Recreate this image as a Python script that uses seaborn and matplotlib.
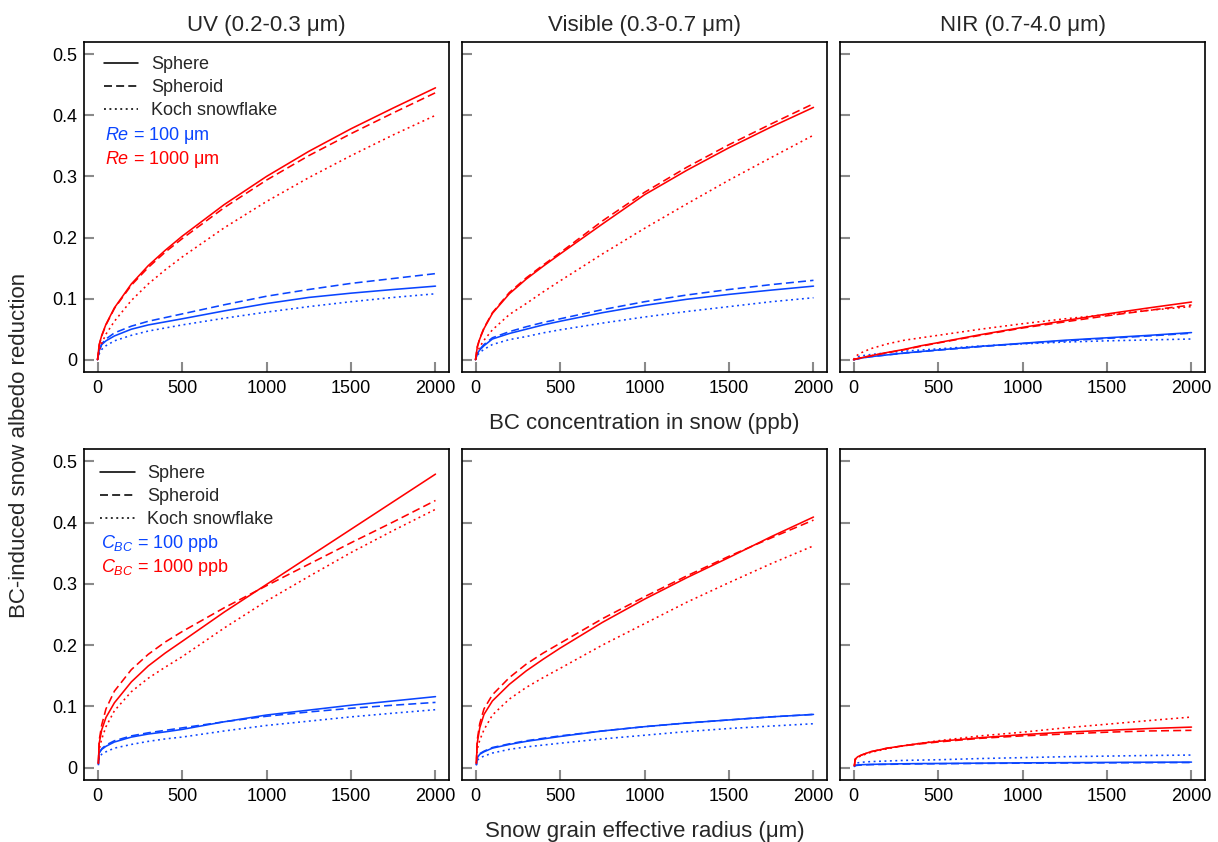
import matplotlib
matplotlib.use("Agg")
import numpy as np
import pandas as pd
import matplotlib.pyplot as plt
from matplotlib.lines import Line2D
from matplotlib.ticker import FixedLocator, FuncFormatter
import seaborn as sns

# ---------------------------------------------------------------------------
# Data: BC-induced snow albedo reduction
# Top row: as a function of BC concentration (ppb) for two grain radii
# Bottom row: as a function of snow grain effective radius (um) for two BC levels
# ---------------------------------------------------------------------------
bc_conc = [0, 10, 25, 50, 100, 200, 300, 400, 500, 750, 1000, 1250, 1500, 1750, 2000]
grain_radius = [5, 10, 25, 50, 100, 200, 300, 400, 500, 750, 1000, 1250, 1500, 1750, 2000]

shapes = ["Sphere", "Spheroid", "Koch snowflake"]
bands = ["UV (0.2-0.3 μm)", "Visible (0.3-0.7 μm)", "NIR (0.7-4.0 μm)"]

# --- UV, vs BC concentration ---
uv_conc_sphere_re1000 = [0, 0.025, 0.040, 0.058, 0.085, 0.124, 0.154, 0.179, 0.202, 0.254, 0.300, 0.341, 0.378, 0.412, 0.445]
uv_conc_spheroid_re1000 = [0, 0.024, 0.039, 0.057, 0.084, 0.122, 0.151, 0.176, 0.198, 0.249, 0.294, 0.334, 0.370, 0.404, 0.437]
uv_conc_koch_re1000 = [0, 0.015, 0.027, 0.042, 0.063, 0.097, 0.124, 0.147, 0.168, 0.216, 0.259, 0.298, 0.334, 0.368, 0.400]
uv_conc_sphere_re100 = [0, 0.015, 0.025, 0.031, 0.039, 0.050, 0.057, 0.062, 0.067, 0.080, 0.092, 0.102, 0.109, 0.115, 0.1205]
uv_conc_spheroid_re100 = [0, 0.015, 0.026, 0.034, 0.044, 0.055, 0.063, 0.069, 0.075, 0.090, 0.104, 0.115, 0.125, 0.133, 0.141]
uv_conc_koch_re100 = [0, 0.010, 0.017, 0.023, 0.031, 0.040, 0.047, 0.052, 0.057, 0.068, 0.078, 0.087, 0.095, 0.102, 0.108]

# --- Visible, vs BC concentration ---
vis_conc_sphere_re1000 = [0, 0.020, 0.034, 0.051, 0.076, 0.108, 0.132, 0.153, 0.173, 0.222, 0.270, 0.310, 0.347, 0.381, 0.413]
vis_conc_spheroid_re1000 = [0, 0.021, 0.035, 0.052, 0.077, 0.110, 0.134, 0.155, 0.175, 0.227, 0.274, 0.315, 0.352, 0.386, 0.419]
vis_conc_koch_re1000 = [0, 0.012, 0.021, 0.032, 0.049, 0.074, 0.092, 0.111, 0.129, 0.173, 0.215, 0.255, 0.294, 0.331, 0.3675]
vis_conc_sphere_re100 = [0, 0.010, 0.016, 0.023, 0.034, 0.043, 0.050, 0.057, 0.063, 0.077, 0.089, 0.099, 0.107, 0.114, 0.1205]
vis_conc_spheroid_re100 = [0, 0.010, 0.017, 0.025, 0.036, 0.046, 0.054, 0.061, 0.067, 0.082, 0.095, 0.106, 0.115, 0.123, 0.130]
vis_conc_koch_re100 = [0, 0.007, 0.012, 0.017, 0.025, 0.033, 0.038, 0.044, 0.049, 0.060, 0.070, 0.079, 0.087, 0.095, 0.1015]

# --- NIR, vs BC concentration ---
nir_conc_sphere_re1000 = [0, 0.001, 0.002, 0.0035, 0.0065, 0.012, 0.017, 0.023, 0.028, 0.041, 0.053, 0.064, 0.075, 0.085, 0.0945]
nir_conc_spheroid_re1000 = [0, 0.001, 0.002, 0.0035, 0.0063, 0.0115, 0.0165, 0.0222, 0.0275, 0.040, 0.052, 0.062, 0.072, 0.081, 0.0896]
nir_conc_koch_re1000 = [0, 0.005, 0.008, 0.012, 0.018, 0.026, 0.032, 0.036, 0.040, 0.050, 0.059, 0.067, 0.074, 0.081, 0.087]
nir_conc_sphere_re100 = [0, 0.0007, 0.0015, 0.003, 0.005, 0.008, 0.011, 0.0135, 0.016, 0.022, 0.027, 0.032, 0.036, 0.040, 0.0445]
nir_conc_spheroid_re100 = [0, 0.0007, 0.0015, 0.003, 0.005, 0.008, 0.0108, 0.0133, 0.0157, 0.0215, 0.0265, 0.031, 0.035, 0.039, 0.0435]
nir_conc_koch_re100 = [0, 0.003, 0.005, 0.0065, 0.0085, 0.0115, 0.014, 0.016, 0.0178, 0.0225, 0.026, 0.029, 0.031, 0.0325, 0.034]

# --- UV, vs grain radius ---
uv_rad_sphere_c1000 = [0.008, 0.040, 0.062, 0.082, 0.106, 0.140, 0.166, 0.187, 0.206, 0.254, 0.299, 0.344, 0.389, 0.434, 0.479]
uv_rad_spheroid_c1000 = [0.008, 0.045, 0.070, 0.096, 0.125, 0.160, 0.185, 0.205, 0.222, 0.261, 0.297, 0.332, 0.367, 0.401, 0.436]
uv_rad_koch_c1000 = [0.006, 0.030, 0.047, 0.067, 0.093, 0.124, 0.146, 0.164, 0.181, 0.228, 0.272, 0.312, 0.351, 0.387, 0.4216]
uv_rad_sphere_c100 = [0.006, 0.024, 0.030, 0.035, 0.042, 0.050, 0.055, 0.0585, 0.0625, 0.075, 0.086, 0.094, 0.102, 0.109, 0.116]
uv_rad_spheroid_c100 = [0.006, 0.025, 0.031, 0.037, 0.044, 0.052, 0.057, 0.061, 0.065, 0.075, 0.084, 0.091, 0.097, 0.102, 0.1066]
uv_rad_koch_c100 = [0.004, 0.018, 0.022, 0.026, 0.032, 0.038, 0.043, 0.047, 0.050, 0.060, 0.069, 0.076, 0.083, 0.089, 0.0947]

# --- Visible, vs grain radius ---
vis_rad_sphere_c1000 = [0.008, 0.040, 0.065, 0.087, 0.109, 0.136, 0.158, 0.177, 0.195, 0.237, 0.275, 0.310, 0.343, 0.377, 0.409]
vis_rad_spheroid_c1000 = [0.008, 0.045, 0.072, 0.096, 0.119, 0.147, 0.169, 0.187, 0.203, 0.243, 0.279, 0.313, 0.345, 0.375, 0.404]
vis_rad_koch_c1000 = [0.006, 0.030, 0.045, 0.062, 0.086, 0.112, 0.131, 0.147, 0.162, 0.200, 0.235, 0.270, 0.302, 0.333, 0.362]
vis_rad_sphere_c100 = [0.005, 0.016, 0.022, 0.026, 0.032, 0.038, 0.043, 0.047, 0.051, 0.060, 0.067, 0.073, 0.078, 0.083, 0.087]
vis_rad_spheroid_c100 = [0.005, 0.017, 0.023, 0.027, 0.033, 0.039, 0.044, 0.048, 0.052, 0.060, 0.067, 0.073, 0.078, 0.083, 0.087]
vis_rad_koch_c100 = [0.004, 0.012, 0.016, 0.019, 0.024, 0.030, 0.034, 0.037, 0.040, 0.047, 0.053, 0.059, 0.064, 0.068, 0.0718]

# --- NIR, vs grain radius ---
nir_rad_sphere_c1000 = [0.003, 0.014, 0.018, 0.021, 0.026, 0.032, 0.036, 0.040, 0.043, 0.049, 0.054, 0.058, 0.061, 0.064, 0.0663]
nir_rad_spheroid_c1000 = [0.003, 0.014, 0.018, 0.021, 0.026, 0.032, 0.036, 0.039, 0.042, 0.048, 0.052, 0.055, 0.058, 0.060, 0.061]
nir_rad_koch_c1000 = [0.003, 0.013, 0.017, 0.020, 0.025, 0.031, 0.036, 0.040, 0.044, 0.052, 0.058, 0.065, 0.071, 0.077, 0.0827]
nir_rad_sphere_c100 = [0.002, 0.004, 0.0045, 0.005, 0.0055, 0.006, 0.0065, 0.0068, 0.007, 0.0075, 0.008, 0.0083, 0.0087, 0.009, 0.0092]
nir_rad_spheroid_c100 = [0.002, 0.0035, 0.004, 0.0045, 0.005, 0.0055, 0.006, 0.0063, 0.0065, 0.007, 0.0075, 0.0078, 0.008, 0.0083, 0.0085]
nir_rad_koch_c100 = [0.002, 0.007, 0.008, 0.009, 0.010, 0.011, 0.012, 0.0125, 0.013, 0.015, 0.0165, 0.018, 0.019, 0.020, 0.0207]

# ---------------------------------------------------------------------------
BLUE = "#0A45FF"
RED = "#FF0000"

sns.set_theme(style="white")
plt.rcParams["font.family"] = ["Liberation Sans", "DejaVu Sans"]
plt.rcParams["mathtext.fontset"] = "custom"
plt.rcParams["mathtext.rm"] = "Liberation Sans"
plt.rcParams["mathtext.it"] = "Liberation Sans:italic"

panel_rows = [
    {
        "x": bc_conc,
        "series": [
            [(uv_conc_sphere_re100, uv_conc_spheroid_re100, uv_conc_koch_re100),
             (uv_conc_sphere_re1000, uv_conc_spheroid_re1000, uv_conc_koch_re1000)],
            [(vis_conc_sphere_re100, vis_conc_spheroid_re100, vis_conc_koch_re100),
             (vis_conc_sphere_re1000, vis_conc_spheroid_re1000, vis_conc_koch_re1000)],
            [(nir_conc_sphere_re100, nir_conc_spheroid_re100, nir_conc_koch_re100),
             (nir_conc_sphere_re1000, nir_conc_spheroid_re1000, nir_conc_koch_re1000)],
        ],
        "groups": ["low", "high"],
        "group_labels": [r"$\mathit{Re}$ = 100 μm", r"$\mathit{Re}$ = 1000 μm"],
        "xlabel": "BC concentration in snow (ppb)",
    },
    {
        "x": grain_radius,
        "series": [
            [(uv_rad_sphere_c100, uv_rad_spheroid_c100, uv_rad_koch_c100),
             (uv_rad_sphere_c1000, uv_rad_spheroid_c1000, uv_rad_koch_c1000)],
            [(vis_rad_sphere_c100, vis_rad_spheroid_c100, vis_rad_koch_c100),
             (vis_rad_sphere_c1000, vis_rad_spheroid_c1000, vis_rad_koch_c1000)],
            [(nir_rad_sphere_c100, nir_rad_spheroid_c100, nir_rad_koch_c100),
             (nir_rad_sphere_c1000, nir_rad_spheroid_c1000, nir_rad_koch_c1000)],
        ],
        "groups": ["low", "high"],
        "group_labels": [r"$\mathit{C}_{\mathit{BC}}$ = 100 ppb", r"$\mathit{C}_{\mathit{BC}}$ = 1000 ppb"],
        "xlabel": "Snow grain effective radius (μm)",
    },
]

palette = {"low": BLUE, "high": RED}
dash_styles = {"Sphere": "", "Spheroid": (5.0, 2.6), "Koch snowflake": (1.2, 2.2)}

fig = plt.figure(figsize=(12.18, 8.42), dpi=100)
W, H = 1218, 842
col_left = [84, 462, 840]
col_width = 365
row_top = [42, 449]
row_height = [330, 331]

fmt_y = FuncFormatter(lambda v, pos: "0" if abs(v) < 1e-9 else f"{v:.1f}")

for r, row in enumerate(panel_rows):
    for c in range(3):
        ax = fig.add_axes([col_left[c] / W, 1 - (row_top[r] + row_height[r]) / H,
                           col_width / W, row_height[r] / H])
        frames = []
        for g, vals in zip(row["groups"], row["series"][c]):
            for shp, yv in zip(shapes, vals):
                frames.append(pd.DataFrame({"x": row["x"], "y": yv, "group": g, "shape": shp}))
        df = pd.concat(frames, ignore_index=True)
        sns.lineplot(data=df, x="x", y="y", hue="group", style="shape",
                     palette=palette, dashes=dash_styles, hue_order=["low", "high"],
                     style_order=shapes, estimator=None, lw=1.15, legend=False, ax=ax)

        ax.set_xlim(-80, 2080)
        ax.set_ylim(-0.02, 0.52)
        ax.xaxis.set_major_locator(FixedLocator([0, 500, 1000, 1500, 2000]))
        ax.yaxis.set_major_locator(FixedLocator([0, 0.1, 0.2, 0.3, 0.4, 0.5]))
        ax.yaxis.set_major_formatter(fmt_y)
        ax.set_xlabel("")
        ax.set_ylabel("")
        ax.tick_params(bottom=True, left=True, top=False, right=False,
                       direction="in", length=7, width=1.5, color="#8a8a8a",
                       labelsize=13, labelcolor="black")
        ax.tick_params(axis="x", pad=6)
        ax.tick_params(axis="y", pad=5)
        if c > 0:
            ax.tick_params(axis="y", labelleft=False)
        for sp in ax.spines.values():
            sp.set_color("black")
            sp.set_linewidth(1.2)
        if r == 0:
            ax.set_title(bands[c], fontsize=16, pad=8)

        if c == 0:
            handles = [Line2D([], [], color="black", lw=1.15,
                              dashes=dash_styles[s] if dash_styles[s] else (None, None))
                       for s in shapes]
            handles[0].set_linestyle("-")
            top_anchor = 0.957 if r == 0 else 0.952
            leg = ax.legend(handles, shapes, loc="upper left",
                            bbox_to_anchor=(0.055 if r == 0 else 0.045, top_anchor),
                            frameon=False, fontsize=13, handlelength=1.9,
                            handletextpad=0.7, labelspacing=0.34,
                            borderpad=0, borderaxespad=0)
            x0 = 0.057 if r == 0 else 0.047
            ax.text(x0, 1 - 94 / row_height[r], row["group_labels"][0], color=BLUE,
                    fontsize=13, transform=ax.transAxes, va="center", ha="left")
            ax.text(x0, 1 - 118 / row_height[r], row["group_labels"][1], color=RED,
                    fontsize=13, transform=ax.transAxes, va="center", ha="left")

    fig.text(644.5 / W, 1 - (row_top[r] + row_height[r] + 51) / H, row["xlabel"],
             ha="center", va="center", fontsize=16)

fig.text(20 / W, 1 - 445 / H, "BC-induced snow albedo reduction", rotation=90,
         ha="center", va="center", fontsize=16)

fig.savefig("out.png", dpi=100)
